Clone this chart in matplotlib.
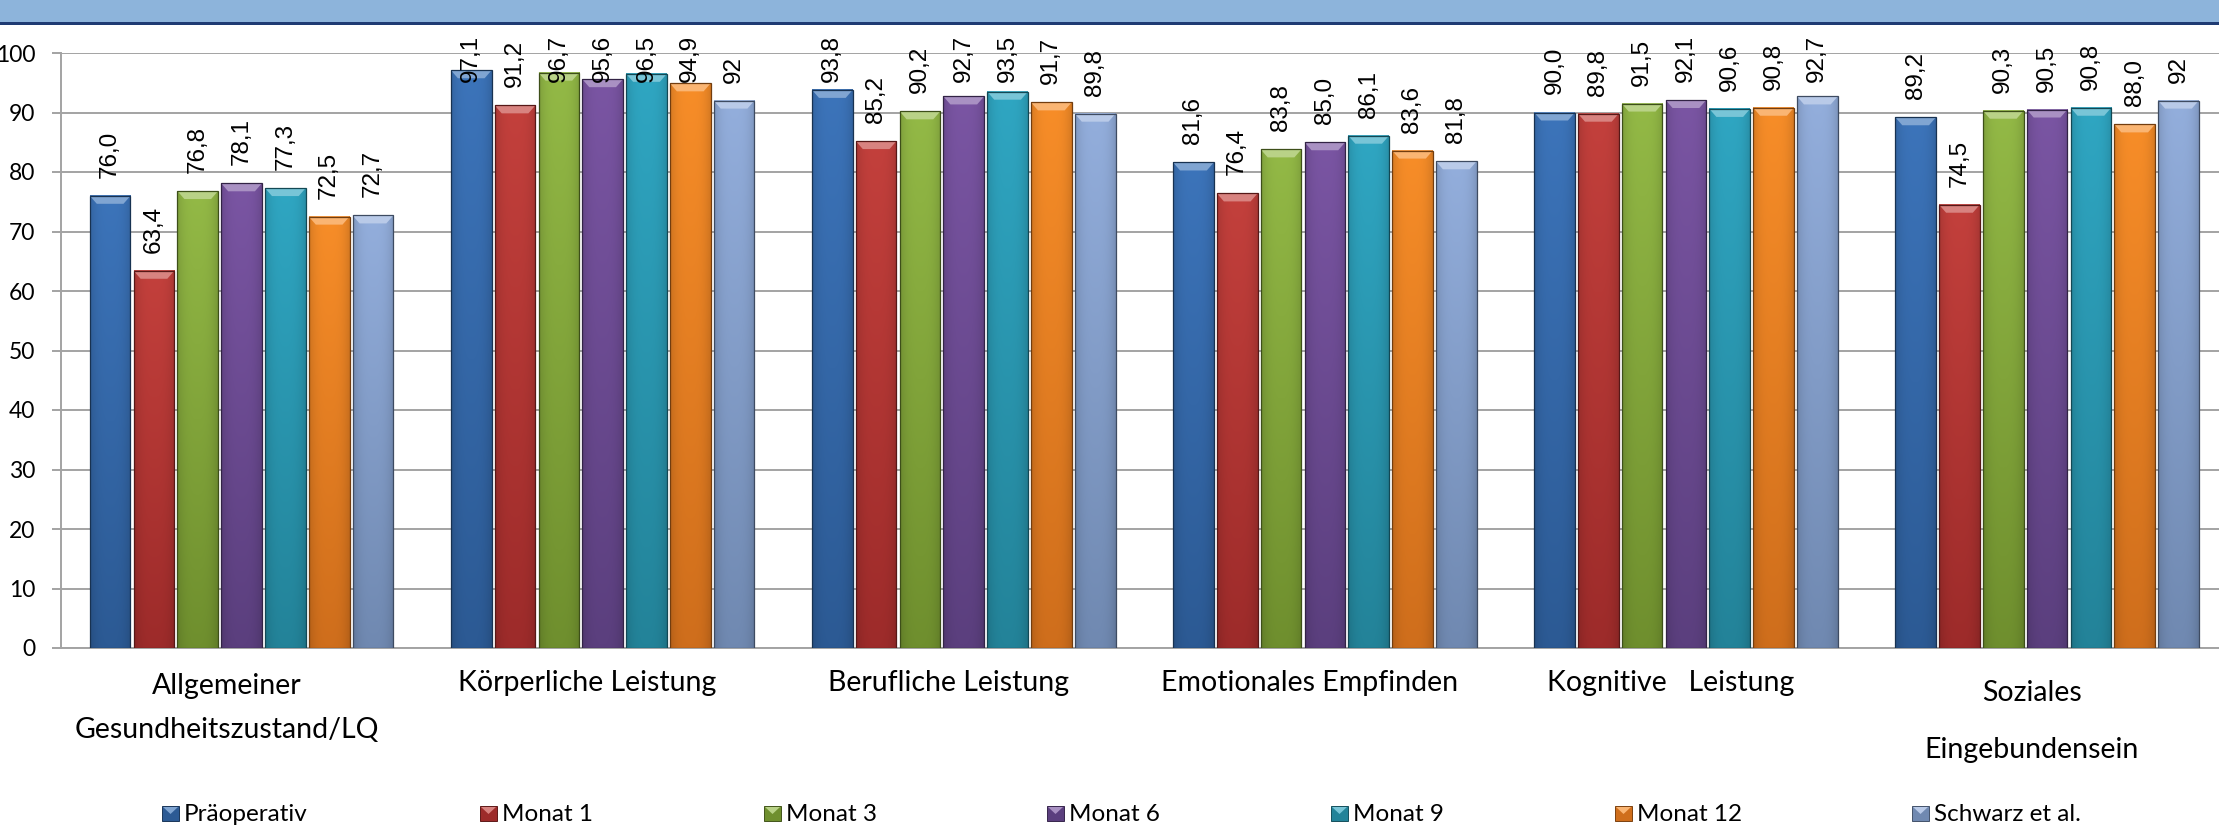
import numpy as np
import matplotlib
matplotlib.use("Agg")
import matplotlib.pyplot as plt
from matplotlib.patches import Rectangle, Polygon
from matplotlib.colors import to_rgb

# ---- data -------------------------------------------------------------
categories = [
    "Allgemeiner\nGesundheitszustand/LQ",
    "Körperliche Leistung",
    "Berufliche Leistung",
    "Emotionales Empfinden",
    "Kognitive   Leistung",
    "Soziales\nEingebundensein",
]
series_names = ["Präoperativ", "Monat 1", "Monat 3", "Monat 6",
                "Monat 9", "Monat 12", "Schwarz et al."]

praeoperativ = [76.0, 97.1, 93.8, 81.6, 90.0, 89.2]
monat_1 = [63.4, 91.2, 85.2, 76.4, 89.8, 74.5]
monat_3 = [76.8, 96.7, 90.2, 83.8, 91.5, 90.3]
monat_6 = [78.1, 95.6, 92.7, 85.0, 92.1, 90.5]
monat_9 = [77.3, 96.5, 93.5, 86.1, 90.6, 90.8]
monat_12 = [72.5, 94.9, 91.7, 83.6, 90.8, 88.0]
schwarz = [72.7, 92, 89.8, 81.8, 92.7, 92]

y_ticks = [0, 10, 20, 30, 40, 50, 60, 70, 80, 90, 100]

series_values = [praeoperativ, monat_1, monat_3, monat_6, monat_9, monat_12, schwarz]

# ---- styling ----------------------------------------------------------
top_colors = ["#3C74BA", "#C3403C", "#93B946", "#7A55A3", "#2FA6C2", "#F78D28", "#93AEDC"]
bottom_colors = ["#2C5A94", "#9D2B2A", "#6F8F2E", "#5B3F7E", "#238399", "#CF6E1C", "#7089B1"]
GRID = "#A3A3A3"
CAT_FONT = ["Lato", "DejaVu Sans"]
NUM_FONT = ["Liberation Sans", "DejaVu Sans"]

W, H, DPI = 2219, 839, 100
fig = plt.figure(figsize=(W / DPI, H / DPI), dpi=DPI)
fig.patch.set_facecolor("white")


def fx(x):
    return x / W


def fy(y):
    return 1 - y / H


def blend(c, other, t):
    c = np.array(to_rgb(c))
    o = np.array(to_rgb(other))
    return tuple(c * (1 - t) + o * t)


# title band across the top
fig.patches.append(Rectangle((0, fy(22)), 1, 22 / H, transform=fig.transFigure,
                             facecolor="#8DB4DB", edgecolor="none", zorder=0))
fig.patches.append(Rectangle((0, fy(25)), 1, 3 / H, transform=fig.transFigure,
                             facecolor="#1F3B73", edgecolor="none", zorder=0))

# plot area
ax_left, ax_right, ax_top, ax_bottom = 61, 2227.6, 53, 648
ax = fig.add_axes([fx(ax_left), fy(ax_bottom),
                   (ax_right - ax_left) / W, (ax_bottom - ax_top) / H])
px_per_x = (ax_right - ax_left) / 6.0
px_per_y = (ax_bottom - ax_top) / 100.0


def gradient(top, bottom, rows=80, cols=40):
    t = np.linspace(0, 1, rows)[:, None]
    col = np.array(to_rgb(top))[None, :] * (1 - t) + np.array(to_rgb(bottom))[None, :] * t
    shade = 1 - 0.13 * np.abs(np.linspace(-1, 1, cols)) ** 3
    img = col[:, None, :] * shade[None, :, None]
    return np.clip(img, 0, 1)


n = len(series_names)
pitch = 0.1213
bar_w = 0.1127
xpos = np.arange(len(categories))
bevel_h = 8 / px_per_y
bevel_in = 7 / px_per_x

value_labels = []
for j, vals in enumerate(series_values):
    offs = (j - (n - 1) / 2) * pitch
    edge = blend(bottom_colors[j], "black", 0.45)
    bars = ax.bar(xpos + offs, vals, width=bar_w, facecolor="none",
                  edgecolor=edge, linewidth=0.9, zorder=4)
    img = gradient(top_colors[j], bottom_colors[j])
    light = blend(top_colors[j], "white", 0.35)
    for rect, v in zip(bars, vals):
        x0, w, h = rect.get_x(), rect.get_width(), rect.get_height()
        ax.imshow(img, extent=[x0, x0 + w, 0, h], aspect="auto",
                  interpolation="bilinear", zorder=3)
        ax.add_patch(Polygon([(x0, h), (x0 + w, h), (x0 + w - bevel_in, h - bevel_h),
                              (x0 + bevel_in, h - bevel_h)], closed=True,
                             facecolor=light, edgecolor="none", zorder=3.5))
        if j == n - 1:
            txt = f"{v:g}".replace(".", ",")
        else:
            txt = f"{v:.1f}".replace(".", ",")
        ann = ax.annotate(txt, xy=(x0 + w / 2, h), xytext=(0, 18),
                          textcoords="offset pixels", rotation=90,
                          ha="center", va="bottom", fontsize=17.5,
                          family=NUM_FONT, color="black", zorder=6,
                          annotation_clip=False)
        value_labels.append(ann)

ax.set_xlim(-0.5, 5.5)
ax.set_ylim(0, 100)
ax.set_yticks(y_ticks)
ax.yaxis.grid(True, color=GRID, linewidth=1.4)
ax.set_axisbelow(True)
for s in ("top", "right"):
    ax.spines[s].set_visible(False)
for s in ("left", "bottom"):
    ax.spines[s].set_color(GRID)
    ax.spines[s].set_linewidth(1.4)
ax.tick_params(axis="x", bottom=False, labelbottom=False)
ax.tick_params(axis="y", length=6.5, width=1.4, color=GRID, pad=12,
               labelsize=16.5, labelcolor="black")
for lab in ax.get_yticklabels():
    lab.set_family(CAT_FONT)

# category labels below the axis (baselines in pixels below the zero line)
label_baselines = [[46, 90], [43], [43], [43], [43], [53, 110]]
for i, (cat, bases) in enumerate(zip(categories, label_baselines)):
    for line, b in zip(cat.split("\n"), bases):
        ax.annotate(line, xy=(i, 0), xytext=(-15, -b), textcoords="offset pixels",
                    ha="center", va="baseline", fontsize=20.5, family=CAT_FONT,
                    color="black", annotation_clip=False)

# legend row
legend_left = [162, 480, 764, 1047, 1331, 1615, 1912]
for j, (name, lx) in enumerate(zip(series_names, legend_left)):
    y_top, y_bot = 806, 821
    fig.patches.append(Rectangle((fx(lx), fy(y_bot)), 17 / W, 15 / H,
                                 transform=fig.transFigure,
                                 facecolor=bottom_colors[j],
                                 edgecolor=blend(bottom_colors[j], "black", 0.4),
                                 linewidth=0.7, zorder=2))
    fig.patches.append(Polygon([(fx(lx + 1), fy(y_top + 1)), (fx(lx + 16), fy(y_top + 1)),
                                (fx(lx + 8.5), fy(y_top + 8))], closed=True,
                               transform=fig.transFigure,
                               facecolor=blend(top_colors[j], "white", 0.35),
                               edgecolor="none", zorder=3))
    fig.text(fx(lx + 22), fy(y_bot), name, ha="left", va="baseline",
             fontsize=17.5, family=CAT_FONT, color="black")

# keep rotated value labels inside the chart area
fig.canvas.draw()
renderer = fig.canvas.get_renderer()
limit = H - 35
for ann in value_labels:
    bb = ann.get_window_extent(renderer)
    if bb.y1 > limit:
        ann.xyann = (0, 18 - (bb.y1 - limit))

fig.savefig("out.png", dpi=DPI)
